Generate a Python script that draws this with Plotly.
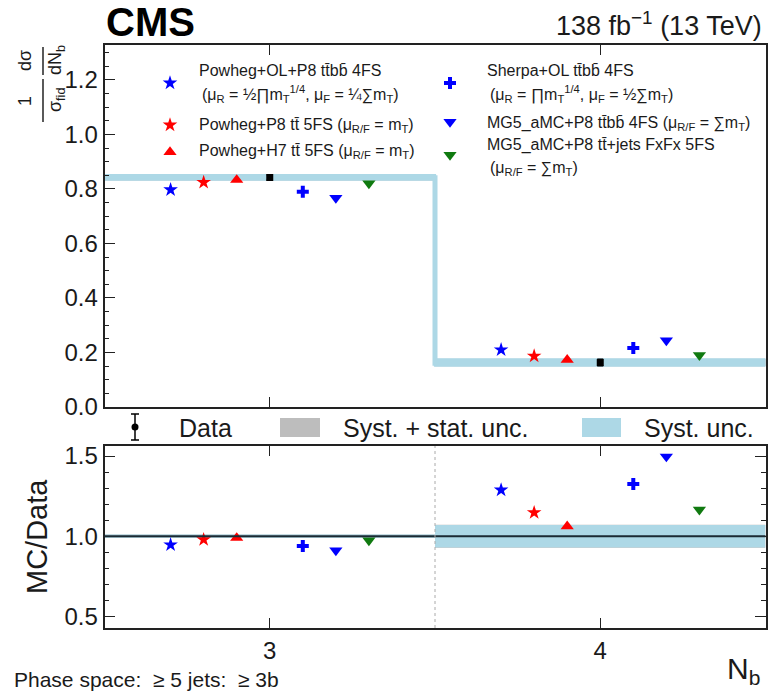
import plotly.graph_objects as go

# ---------------- data ----------------
bins = [3, 4]
data_val = [0.842, 0.163]
syst_rel = [0.010, 0.070]        # relative syst. unc.
tot_rel = [0.011, 0.072]         # relative syst. + stat. unc.

model_names = [
    "Powheg+OL+P8 tt\u0304bb\u0304 4FS",
    "Powheg+P8 tt\u0304 5FS",
    "Powheg+H7 tt\u0304 5FS",
    "Sherpa+OL tt\u0304bb\u0304 4FS",
    "MG5_aMC+P8 tt\u0304bb\u0304 4FS",
    "MG5_aMC+P8 tt\u0304+jets FxFx 5FS",
]
powheg_ol_p8 = [0.797, 0.210]
powheg_p8 = [0.824, 0.187]
powheg_h7 = [0.833, 0.173]
sherpa_ol = [0.790, 0.216]
mg5_ttbb = [0.767, 0.244]
mg5_fxfx = [0.820, 0.190]
model_values = [powheg_ol_p8, powheg_p8, powheg_h7, sherpa_ol, mg5_ttbb, mg5_fxfx]

# ---------------- styles ----------------
offsets = [-0.3, -0.2, -0.1, 0.1, 0.2, 0.3]
symbols = ["star", "star", "triangle-up", "cross", "triangle-down", "triangle-down"]
colors = ["#0000ff", "#ff0000", "#ff0000", "#0000ff", "#0000ff", "#107a10"]
sizes = [11, 11, 11.5, 10, 11.5, 11.5]
LB = "#add8e6"
GREY = "#bdbdbd"
FONT = "Liberation Sans, Arial, Helvetica, sans-serif"

W, H = 770, 691
XL, XR = 104.5, 765.5
TOP_T, TOP_B = 45, 407
BOT_T, BOT_B = 446, 628

fig = go.Figure()

edges_lo = [b - 0.5 for b in bins]
edges_hi = [b + 0.5 for b in bins]


def step_polygon(lo, hi):
    xs, ys = [], []
    for i in range(len(bins)):
        xs += [edges_lo[i], edges_hi[i]]
        ys += [hi[i], hi[i]]
    for i in reversed(range(len(bins))):
        xs += [edges_hi[i], edges_lo[i]]
        ys += [lo[i], lo[i]]
    xs.append(xs[0]); ys.append(ys[0])
    return xs, ys


# ---- top panel bands ----
tot_lo = [d * (1 - r) for d, r in zip(data_val, tot_rel)]
tot_hi = [d * (1 + r) for d, r in zip(data_val, tot_rel)]
sy_lo = [d * (1 - r) for d, r in zip(data_val, syst_rel)]
sy_hi = [d * (1 + r) for d, r in zip(data_val, syst_rel)]

xs, ys = step_polygon(tot_lo, tot_hi)
fig.add_trace(go.Scatter(x=xs, y=ys, fill="toself", fillcolor=GREY, mode="lines",
                         line=dict(color=GREY, width=1), xaxis="x", yaxis="y", showlegend=False))
xs, ys = step_polygon(sy_lo, sy_hi)
fig.add_trace(go.Scatter(x=xs, y=ys, fill="toself", fillcolor=LB, mode="lines",
                         line=dict(color=LB, width=2.2), xaxis="x", yaxis="y", showlegend=False))
# vertical connection of the step band
fig.add_trace(go.Scatter(x=[edges_hi[0], edges_lo[1]], y=[sy_hi[0], sy_lo[1]], mode="lines",
                         line=dict(color=LB, width=5), xaxis="x", yaxis="y", showlegend=False))

# ---- bottom panel bands ----
for i in range(len(bins)):
    for rel, col in ((tot_rel, GREY), (syst_rel, LB)):
        fig.add_trace(go.Scatter(
            x=[edges_lo[i], edges_hi[i], edges_hi[i], edges_lo[i], edges_lo[i]],
            y=[1 - rel[i], 1 - rel[i], 1 + rel[i], 1 + rel[i], 1 - rel[i]],
            fill="toself", fillcolor=col, mode="lines", line=dict(width=0, color=col),
            xaxis="x2", yaxis="y2", showlegend=False))

# ---- MC predictions ----
for name, vals, off, sym, col, sz in zip(model_names, model_values, offsets, symbols, colors, sizes):
    xpos = [b + off for b in bins]
    fig.add_trace(go.Scatter(x=xpos, y=vals, mode="markers", name=name,
                             marker=dict(symbol=sym, color=col, size=sz, line=dict(width=0)),
                             xaxis="x", yaxis="y", showlegend=False))
    ratio = [v / d for v, d in zip(vals, data_val)]
    fig.add_trace(go.Scatter(x=xpos, y=ratio, mode="markers", name=name,
                             marker=dict(symbol=sym, color=col, size=sz, line=dict(width=0)),
                             xaxis="x2", yaxis="y2", showlegend=False))

# ---- data ----
fig.add_trace(go.Scatter(x=bins, y=data_val, mode="markers", name="Data",
                         marker=dict(symbol="square", color="black", size=7),
                         error_y=dict(type="data", array=[d * r for d, r in zip(data_val, tot_rel)],
                                      color="black", thickness=1.5, width=3),
                         xaxis="x", yaxis="y", showlegend=False))

# ---- overlay (pixel coordinates) for legend / labels ----
leg_markers_x = [170, 170, 170, 450, 450, 450]
leg_markers_y = [83, 125, 152, 83, 122, 155]
for sym, col, sz, lx, ly in zip(symbols, colors, sizes, leg_markers_x, leg_markers_y):
    fig.add_trace(go.Scatter(x=[lx], y=[ly], mode="markers",
                             marker=dict(symbol=sym, color=col, size=sz, line=dict(width=0)),
                             xaxis="x3", yaxis="y3", showlegend=False))
# data legend marker
fig.add_trace(go.Scatter(x=[135], y=[427], mode="markers",
                         marker=dict(symbol="circle", color="black", size=7),
                         error_y=dict(type="data", array=[13], color="black", thickness=1.5, width=4),
                         xaxis="x3", yaxis="y3", showlegend=False))

ann = []


def txt(x, y, s, size, xa="left", ya="middle", angle=0, bold=False, color="#1a1a1a"):
    ann.append(dict(x=x, y=y, xref="x3", yref="y3", text=("<b>%s</b>" % s) if bold else s,
                    showarrow=False, xanchor=xa, yanchor=ya, textangle=angle,
                    font=dict(family=FONT, size=size, color=color)))


LS = 16
txt(197, 70, model_names[0], LS)
txt(200, 94, "(μ<sub>R</sub> = ½∏m<sub>T</sub><sup>1/4</sup>, μ<sub>F</sub> = ¼∑m<sub>T</sub>)", LS)
txt(197, 125, model_names[1] + " (μ<sub>R/F</sub> = m<sub>T</sub>)", LS)
txt(197, 151, model_names[2] + " (μ<sub>R/F</sub> = m<sub>T</sub>)", LS)
txt(485, 70, model_names[3], LS)
txt(488, 94, "(μ<sub>R</sub> = ∏m<sub>T</sub><sup>1/4</sup>, μ<sub>F</sub> = ½∑m<sub>T</sub>)", LS)
txt(485, 123, model_names[4] + " (μ<sub>R/F</sub> = ∑m<sub>T</sub>)", LS)
txt(485, 145, model_names[5], LS)
txt(488, 168, "(μ<sub>R/F</sub> = ∑m<sub>T</sub>)", LS)

txt(104, 22, "CMS", 40, bold=True, color="black")
txt(764, 24, "138 fb<sup>−1</sup> (13 TeV)", 27, xa="right")

txt(177, 428, "Data", 25)
txt(341, 428, "Syst. + stat. unc.", 25)
txt(642, 428, "Syst. unc.", 25)

# y title of top panel (rotated fraction)
txt(25, 101, "1", 18, xa="center", angle=-90)
txt(56, 100, "σ<sub>fid</sub>", 18, xa="center", angle=-90)
txt(25, 61, "dσ", 18, xa="center", angle=-90)
txt(56, 60, "dN<sub>b</sub>", 18, xa="center", angle=-90)
# bottom panel y title
txt(37, 537, "MC/Data", 29, xa="center", angle=-90)

txt(762, 670, "N<sub>b</sub>", 30, xa="right")
txt(12, 679, "Phase space:  ≥ 5 jets:  ≥ 3b", 21)

shapes = [
    dict(type="line", xref="x3", yref="y3", x0=43, x1=43, y0=79, y1=122, line=dict(color="black", width=1.3)),
    dict(type="line", xref="x3", yref="y3", x0=43, x1=43, y0=47, y1=75, line=dict(color="black", width=1.3)),
    dict(type="rect", xref="x3", yref="y3", x0=280, x1=320, y0=418, y1=437, fillcolor=GREY, line=dict(width=0)),
    dict(type="rect", xref="x3", yref="y3", x0=582, x1=621, y0=418, y1=437, fillcolor=LB, line=dict(width=0)),
    dict(type="line", xref="x2 domain", yref="y2", x0=0, x1=1, y0=1, y1=1, line=dict(color="#1b2a33", width=2)),
    dict(type="line", xref="x2", yref="y2 domain", x0=edges_hi[0], x1=edges_hi[0], y0=0, y1=1,
         line=dict(color="#aaaaaa", width=1, dash="dot")),
]

xdom = [XL / W, XR / W]
axis_common = dict(showline=True, linecolor="#222222", linewidth=1.6, showgrid=False, zeroline=False,
                   ticks="inside", tickcolor="#222222", tickwidth=1.4, automargin=False,
                   tickfont=dict(family=FONT, size=24, color="#1a1a1a"))

fig.update_layout(
    width=W, height=H, autosize=False,
    margin=dict(l=0, r=0, t=0, b=0, pad=0, autoexpand=False),
    paper_bgcolor="white", plot_bgcolor="rgba(0,0,0,0)",
    showlegend=False,
    xaxis=dict(domain=xdom, range=[2.5, 4.5], anchor="y", tickvals=bins, showticklabels=False,
               ticklen=10, mirror="ticks", **axis_common),
    yaxis=dict(domain=[1 - TOP_B / H, 1 - TOP_T / H], range=[0, 1.328], anchor="x",
               tick0=0, dtick=0.2, tickformat=".1f", ticklen=11, mirror=True,
               minor=dict(dtick=0.05, ticklen=5, ticks="inside", tickcolor="#222222", tickwidth=1.2),
               **axis_common),
    xaxis2=dict(domain=xdom, range=[2.5, 4.5], anchor="y2", tickvals=bins, ticktext=["3", "4"],
                ticklen=10, mirror="ticks", **axis_common),
    yaxis2=dict(domain=[1 - BOT_B / H, 1 - BOT_T / H], range=[0.427, 1.563], anchor="x2",
                tick0=0.5, dtick=0.5, tickformat=".1f", ticklen=11, mirror="ticks",
                minor=dict(dtick=0.1, ticklen=5, ticks="inside", tickcolor="#222222", tickwidth=1.2),
                **axis_common),
    xaxis3=dict(domain=[0, 1], range=[0, W], anchor="y3", visible=False, fixedrange=True, automargin=False),
    yaxis3=dict(domain=[0, 1], range=[H, 0], anchor="x3", visible=False, fixedrange=True, automargin=False),
    annotations=ann, shapes=shapes,
)

fig.write_html("out.html",
               config={"responsive": False, "displayModeBar": False},
               post_script="document.body.style.margin='0';document.body.style.overflow='hidden';")
